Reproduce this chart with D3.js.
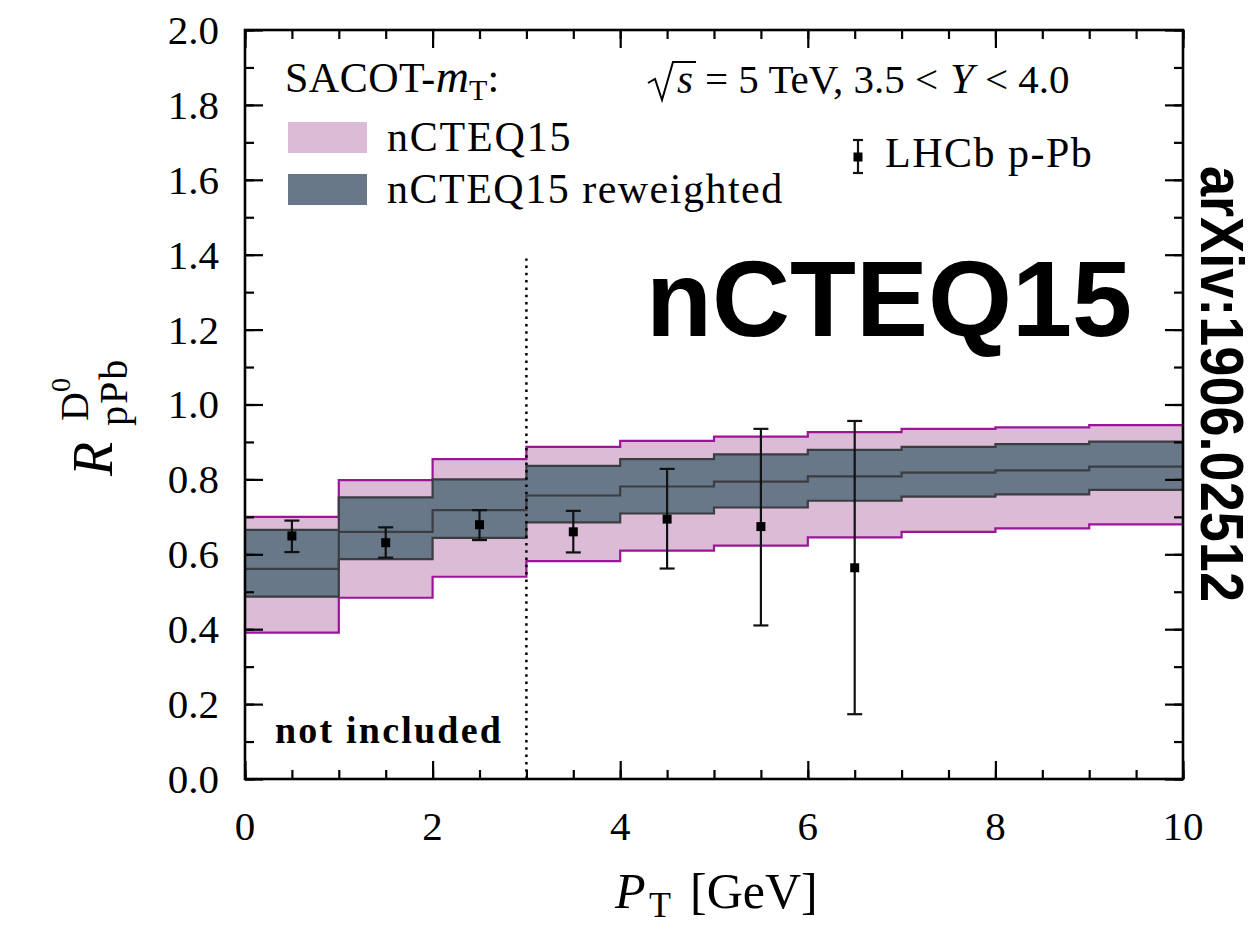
<!DOCTYPE html>
<html>
<head>
<meta charset="utf-8">
<script src="https://cdn.jsdelivr.net/npm/d3@7"></script>
<style>
  html, body { margin: 0; padding: 0; background: #fff; }
  svg { display: block; }
  .serif { font-family: "Liberation Serif", "Times New Roman", serif; }
</style>
</head>
<body>
<svg id="chart" width="1257" height="934"></svg>
<script>
// Bin edges in transverse momentum (GeV)
const binEdges = [0, 1, 2, 3, 4, 5, 6, 7, 8, 9, 10];

// nCTEQ15 uncertainty band (per bin)
const nctLow  = [0.391, 0.484, 0.540, 0.582, 0.610, 0.623, 0.645, 0.660, 0.669, 0.680];
const nctHigh = [0.700, 0.798, 0.854, 0.887, 0.903, 0.914, 0.926, 0.935, 0.939, 0.945];

// nCTEQ15 reweighted band and its central value (per bin)
const rwLow     = [0.487, 0.587, 0.644, 0.685, 0.709, 0.725, 0.743, 0.754, 0.760, 0.772];
const rwHigh    = [0.665, 0.752, 0.800, 0.836, 0.854, 0.867, 0.879, 0.887, 0.894, 0.901];
const rwCentral = [0.561, 0.660, 0.718, 0.757, 0.781, 0.794, 0.808, 0.818, 0.824, 0.834];

// LHCb p-Pb D0 measurements
const lhcbPt    = [0.5, 1.5, 2.5, 3.5, 4.5, 5.5, 6.5];
const lhcbR     = [0.649, 0.631, 0.679, 0.660, 0.694, 0.674, 0.564];
const lhcbErrLo = [0.606, 0.591, 0.638, 0.605, 0.562, 0.410, 0.173];
const lhcbErrHi = [0.690, 0.672, 0.718, 0.716, 0.828, 0.935, 0.956];

// Axis ticks
const xMajorTicks = [0, 2, 4, 6, 8, 10];
const xMinorTicks = d3.range(0, 10.01, 0.5);
const yMajorTicks = [0.0, 0.2, 0.4, 0.6, 0.8, 1.0, 1.2, 1.4, 1.6, 1.8, 2.0];
const yMinorTicks = d3.range(0, 2.001, 0.1);

const cutPt = 3;        // boundary of the "not included" region
const cutTop = 1.39;    // height of the dotted separator

const svg = d3.select("#chart");
const L = 245, R = 1183, T = 30, B = 779;

const x = d3.scaleLinear().domain([0, 10]).range([L, R]);
const y = d3.scaleLinear().domain([0, 2]).range([B, T]);

const pinkFill = "#dcbbd7", pinkEdge = "#9c1599";
const grayFill = "#687889", grayEdge = "#3b3d40";

function stepPoints(vals) {
  const pts = vals.map((v, i) => [binEdges[i], v]);
  pts.push([binEdges[binEdges.length - 1], vals[vals.length - 1]]);
  return pts;
}
function bandPoints(lo, hi) {
  return lo.map((v, i) => ({ x: binEdges[i], lo: v, hi: hi[i] }))
    .concat([{ x: binEdges[binEdges.length - 1], lo: lo[lo.length - 1], hi: hi[hi.length - 1] }]);
}
const area = d3.area().curve(d3.curveStepAfter)
  .x(d => x(d.x)).y0(d => y(d.lo)).y1(d => y(d.hi));
const line = d3.line().curve(d3.curveStepAfter)
  .x(d => x(d[0])).y(d => y(d[1]));

const plot = svg.append("g");

// nCTEQ15 band
plot.append("path").attr("d", area(bandPoints(nctLow, nctHigh))).attr("fill", pinkFill);
[nctLow, nctHigh].forEach(v => plot.append("path").attr("d", line(stepPoints(v)))
  .attr("fill", "none").attr("stroke", pinkEdge).attr("stroke-width", 2.2));

// reweighted band
plot.append("path").attr("d", area(bandPoints(rwLow, rwHigh))).attr("fill", grayFill);
[rwLow, rwHigh, rwCentral].forEach(v => plot.append("path").attr("d", line(stepPoints(v)))
  .attr("fill", "none").attr("stroke", grayEdge).attr("stroke-width", 2.2));

// dotted separator
plot.append("line")
  .attr("x1", x(cutPt)).attr("x2", x(cutPt)).attr("y1", y(0)).attr("y2", y(cutTop))
  .attr("stroke", "#000").attr("stroke-width", 2.5).attr("stroke-dasharray", "2.5,4.8");

// LHCb data points
const pts = plot.append("g");
lhcbPt.forEach((p, i) => {
  const cx = x(p);
  pts.append("line").attr("x1", cx).attr("x2", cx)
    .attr("y1", y(lhcbErrLo[i])).attr("y2", y(lhcbErrHi[i]))
    .attr("stroke", "#111").attr("stroke-width", 2.2);
  [lhcbErrLo[i], lhcbErrHi[i]].forEach(v => pts.append("line")
    .attr("x1", cx - 7.5).attr("x2", cx + 7.5).attr("y1", y(v)).attr("y2", y(v))
    .attr("stroke", "#111").attr("stroke-width", 2.2));
  pts.append("rect").attr("x", cx - 4.5).attr("y", y(lhcbR[i]) - 4.5)
    .attr("width", 9).attr("height", 9).attr("fill", "#000");
});

// Axes: ticks inside on all four sides
function axisTicks(axisGen, tr, major, minor) {
  const g1 = svg.append("g").attr("transform", tr)
    .call(axisGen.tickValues(minor).tickSize(9).tickFormat(""));
  const g2 = svg.append("g").attr("transform", tr)
    .call(axisGen.tickValues(major).tickSize(18).tickFormat(""));
  [g1, g2].forEach(g => {
    g.select(".domain").remove();
    g.selectAll(".tick line").attr("stroke", "#000").attr("stroke-width", 2.2);
  });
}
axisTicks(d3.axisTop(x), `translate(0,${B})`, xMajorTicks, xMinorTicks);
axisTicks(d3.axisBottom(x), `translate(0,${T})`, xMajorTicks, xMinorTicks);
axisTicks(d3.axisRight(y), `translate(${L},0)`, yMajorTicks, yMinorTicks);
axisTicks(d3.axisLeft(y), `translate(${R},0)`, yMajorTicks, yMinorTicks);

svg.append("rect").attr("x", L).attr("y", T).attr("width", R - L).attr("height", B - T)
  .attr("fill", "none").attr("stroke", "#000").attr("stroke-width", 2.6);

// Tick labels
const xl = svg.append("g").attr("class", "serif");
xMajorTicks.forEach(v => xl.append("text").attr("x", x(v)).attr("y", 840)
  .attr("text-anchor", "middle").attr("font-size", 41).text(v));
const yl = svg.append("g").attr("class", "serif");
yMajorTicks.forEach(v => yl.append("text").attr("x", 219).attr("y", y(v)).attr("dy", "0.34em")
  .attr("text-anchor", "end").attr("font-size", 41).text(v.toFixed(1)));

// Axis titles
const xt = svg.append("text").attr("class", "serif").attr("y", 908).attr("font-size", 50);
xt.append("tspan").attr("x", 615).attr("font-style", "italic").text("P");
xt.append("tspan").attr("x", 649).attr("y", 917).attr("font-size", 36).text("T");
xt.append("tspan").attr("x", 690).attr("y", 908).text("[GeV]");

const yt = svg.append("g").attr("transform", "translate(112,478) rotate(-90)")
  .append("text").attr("class", "serif");
yt.append("tspan").attr("x", 2).attr("y", 0).attr("font-size", 56).attr("font-style", "italic").text("R");
yt.append("tspan").attr("x", 52).attr("y", 15).attr("font-size", 40).attr("letter-spacing", 2).text("pPb");
yt.append("tspan").attr("x", 57).attr("y", -24).attr("font-size", 40).text("D");
yt.append("tspan").attr("x", 86).attr("y", -42).attr("font-size", 28).text("0");

// Legend
const lg = svg.append("g").attr("class", "serif").attr("font-size", 42);
const head = lg.append("text").attr("y", 92);
head.append("tspan").attr("x", 285).attr("letter-spacing", 0.5).text("SACOT-");
head.append("tspan").attr("font-style", "italic").attr("font-size", 46).text("m");
head.append("tspan").attr("dy", 8).attr("font-size", 30).text("T");
head.append("tspan").attr("dy", -8).text(":");

lg.append("rect").attr("x", 288).attr("y", 122).attr("width", 79).attr("height", 31).attr("fill", pinkFill);
lg.append("rect").attr("x", 288).attr("y", 174).attr("width", 79).attr("height", 31).attr("fill", grayFill);
lg.append("text").attr("x", 387).attr("y", 151).attr("letter-spacing", 1.8).text("nCTEQ15");
lg.append("text").attr("x", 387).attr("y", 203).attr("letter-spacing", 1.5).text("nCTEQ15 reweighted");

// LHCb legend entry
const lx = 858;
lg.append("line").attr("x1", lx).attr("x2", lx).attr("y1", 140).attr("y2", 173).attr("stroke", "#111").attr("stroke-width", 2.2);
[140, 173].forEach(v => lg.append("line").attr("x1", lx - 5).attr("x2", lx + 5).attr("y1", v).attr("y2", v)
  .attr("stroke", "#111").attr("stroke-width", 2.2));
lg.append("rect").attr("x", lx - 4.5).attr("y", 152.5).attr("width", 9).attr("height", 9).attr("fill", "#000");
lg.append("text").attr("x", 885).attr("y", 167).attr("letter-spacing", 1.5).text("LHCb p-Pb");

// Kinematics label
svg.append("path").attr("d", "M648,83 L655,79 L662,100 L673,62 L696,62")
  .attr("fill", "none").attr("stroke", "#000").attr("stroke-width", 2);
const kin = svg.append("text").attr("class", "serif").attr("y", 93).attr("font-size", 41);
kin.append("tspan").attr("x", 677).attr("font-style", "italic").text("s");
kin.append("tspan").attr("x", 705).text("= 5 TeV, 3.5 <");
kin.append("tspan").attr("x", 950).attr("font-style", "italic").attr("font-size", 43).text("Y");
kin.append("tspan").attr("x", 985).text("< 4.0");

// Region annotation
svg.append("text").attr("class", "serif").attr("x", 275).attr("y", 743)
  .attr("font-size", 38).attr("font-weight", "bold").attr("letter-spacing", 2.2).text("not included");

// Large title and reference
svg.append("text").attr("x", 646).attr("y", 336)
  .attr("font-family", "'Liberation Sans', Arial, sans-serif").attr("font-weight", "bold")
  .attr("font-size", 108).text("nCTEQ15");
svg.append("g").attr("transform", "translate(1201,166) rotate(90)")
  .append("text").attr("x", 0).attr("y", 0)
  .attr("font-family", "'Liberation Sans', Arial, sans-serif").attr("font-weight", "bold")
  .attr("font-size", 62).attr("textLength", 436).attr("lengthAdjust", "spacingAndGlyphs")
  .text("arXiv:1906.02512");
</script>
</body>
</html>
